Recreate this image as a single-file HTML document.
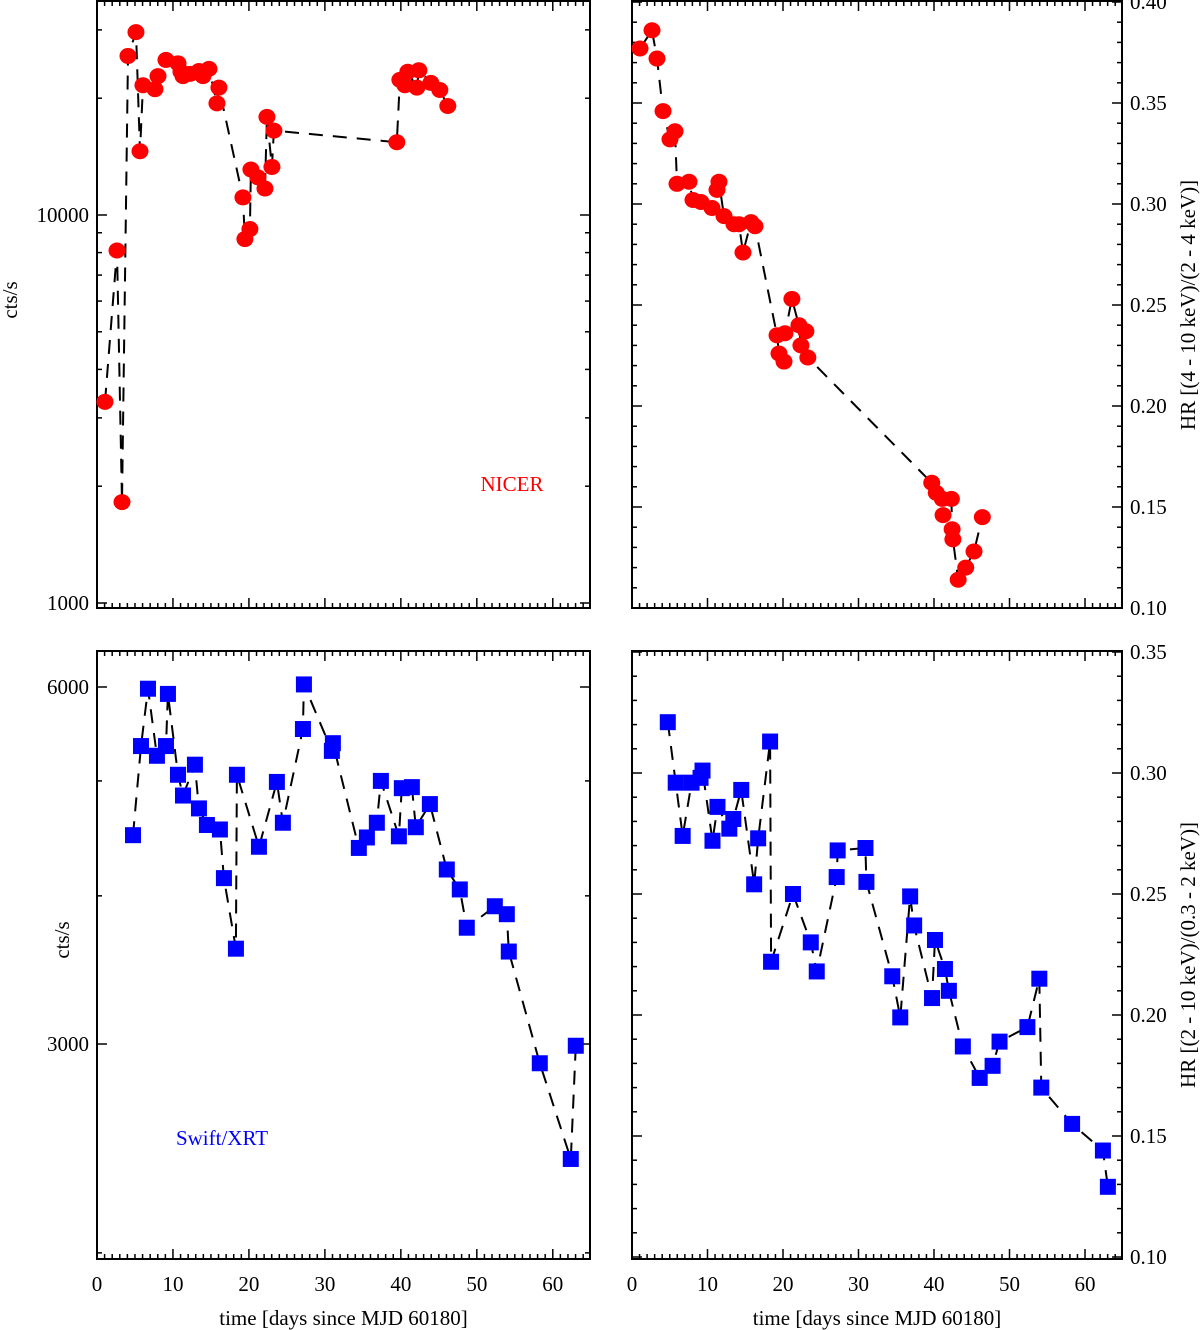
<!DOCTYPE html>
<html><head><meta charset="utf-8"><style>
html,body{margin:0;padding:0;background:#fff}
svg{display:block}
text{font-family:"Liberation Serif",serif;font-size:21px;fill:#000}
</style></head><body>
<svg id="chart" width="1200" height="1330" viewBox="0 0 1200 1330" xmlns="http://www.w3.org/2000/svg"></svg>
<script>
const nicerDays=[1.05,2.63,3.29,4.08,5.13,5.66,6.05,7.63,8.03,9.08,10.66,11.05,11.32,12.24,13.42,13.95,14.74,15.79,16.05,19.21,19.47,20.13,20.26,21.18,22.11,22.37,23.03,23.29,39.47,39.87,40.53,40.92,42.11,42.37,43.95,45.13,46.18];
const nicerRate=[3300,8100,1820,25700,29600,14600,21600,21100,22800,25100,24600,23400,22800,23100,23500,22800,23800,19400,21300,11100,8670,9200,13100,12500,11700,17900,13300,16500,15400,22300,21600,23400,21300,23600,21900,21000,19100];
const nicerHrDays=[1.06,2.65,3.31,4.11,5.03,5.70,5.96,7.55,8.08,9.14,10.60,11.26,11.52,12.19,13.51,14.17,14.70,15.76,16.29,19.21,19.47,20.13,20.26,21.18,22.11,22.37,23.03,23.29,39.7,40.3,41.1,41.2,42.3,42.4,42.5,43.2,44.2,45.3,46.4];
const nicerHr=[0.377,0.386,0.372,0.346,0.332,0.336,0.310,0.311,0.302,0.301,0.298,0.307,0.311,0.294,0.290,0.290,0.276,0.291,0.289,0.235,0.226,0.222,0.236,0.253,0.240,0.230,0.237,0.224,0.162,0.157,0.154,0.146,0.154,0.139,0.134,0.114,0.120,0.128,0.145];
const xrtDays=[4.74,5.79,6.71,7.89,9.08,9.34,10.66,11.32,12.89,13.42,14.47,16.18,16.71,18.29,18.42,21.32,23.68,24.47,27.11,27.24,30.92,31.05,34.47,35.53,36.84,37.37,39.74,40.13,41.45,41.97,43.82,46.05,47.76,48.68,52.37,53.95,54.21,58.29,62.37,63.03];
const xrtRate=[4500,5350,5980,5250,5350,5920,5060,4860,5160,4740,4590,4550,4140,3610,5060,4400,4990,4610,5530,6030,5300,5380,4390,4480,4610,5000,4490,4930,4940,4570,4780,4210,4050,3760,3920,3860,3590,2890,2400,2990];
const xrtHr=[0.321,0.296,0.274,0.296,0.298,0.301,0.272,0.286,0.277,0.281,0.293,0.254,0.273,0.313,0.222,0.250,0.230,0.218,0.257,0.268,0.269,0.255,0.216,0.199,0.249,0.237,0.207,0.231,0.219,0.210,0.187,0.174,0.179,0.189,0.195,0.215,0.170,0.155,0.144,0.129];
const xMajor=[0,10,20,30,40,50,60];
const rateTicksTop=[1000,10000];
const rateTicksBot=[3000,6000];
const hrTicksTop=[0.10,0.15,0.20,0.25,0.30,0.35,0.40];
const hrTicksBot=[0.10,0.15,0.20,0.25,0.30,0.35];

const NS='http://www.w3.org/2000/svg';
const svg=document.getElementById('chart');
function mk(tag,attrs,parent){const e=document.createElementNS(NS,tag);for(const k in attrs)e.setAttribute(k,attrs[k]);(parent||svg).appendChild(e);return e;}

function panel(cfg){
  const g=mk('g',{});
  
  
  const X=d=>cfg.x0+(d/64.9)*(cfg.x1-cfg.x0);
  const Y=cfg.Y;
  const fr=mk('rect',{x:cfg.x0,y:cfg.y0,width:cfg.x1-cfg.x0,height:cfg.y1-cfg.y0,fill:'none',stroke:'#000','stroke-width':2},g);
  
  
  for(let d=0;d<=64;d++){
    const major=d%10===0, L=major?10:5, px=X(d);
    mk('line',{x1:px,x2:px,y1:cfg.y1,y2:cfg.y1-L,stroke:'#000','stroke-width':1.5},g);
    mk('line',{x1:px,x2:px,y1:cfg.y0,y2:cfg.y0+L,stroke:'#000','stroke-width':1.5},g);
  }
  if(cfg.xlabels){
    xMajor.forEach(d=>{const t=mk('text',{x:X(d),y:cfg.y1+32,'text-anchor':'middle'},g);t.textContent=d;
      
      });
    const t=mk('text',{x:(cfg.x0+cfg.x1)/2,y:1325,'text-anchor':'middle'},g);
    t.textContent='time [days since MJD 60180]';
    
    
  }
  cfg.yticks.forEach(tk=>{
    const py=Y(tk.v);if(py<cfg.y0-0.5||py>cfg.y1+0.5)return;
    const L=tk.major?10:5;
    mk('line',{x1:cfg.x0,x2:cfg.x0+L,y1:py,y2:py,stroke:'#000','stroke-width':1.5},g);
    mk('line',{x1:cfg.x1,x2:cfg.x1-L,y1:py,y2:py,stroke:'#000','stroke-width':1.5},g);
    if(tk.label){
      const t=cfg.labelRight?mk('text',{x:cfg.x1+8,y:py+7,'text-anchor':'start'},g):mk('text',{x:cfg.x0-8,y:py+7,'text-anchor':'end'},g);
      t.textContent=tk.label;
      
      
    }
  });
  const pts=cfg.days.map((d,i)=>X(d).toFixed(1)+','+Y(cfg.vals[i]).toFixed(1)).join(' ');
  const pl=mk('polyline',{points:pts,fill:'none',stroke:'#000','stroke-width':2,'stroke-dasharray':'14 10'},g);
  
  
  cfg.days.forEach((d,i)=>{
    const cx=X(d),cy=Y(cfg.vals[i]);let m;
    if(cfg.marker==='circle')m=mk('ellipse',{cx:cx,cy:cy,rx:8.5,ry:8,fill:'#ff0000'},g);
    else m=mk('rect',{x:cx-8,y:cy-8,width:16,height:16,fill:'#0000ff'},g);
    
    
  });
}
function logTicks(lo,hi,labels){const a=[];for(let dec=100;dec<=100000;dec*=10)for(let k=1;k<=9;k++){const v=k*dec;if(v>=lo&&v<=hi)a.push({v:v,major:labels.includes(v)||k===1,label:labels.includes(v)?String(v):null});}return a;}
function linTicks(lo,hi,majors){const a=[];for(let i=Math.round(lo*100);i<=Math.round(hi*100);i++){const v=i/100;const mj=majors.some(m=>Math.abs(m-v)<1e-6);a.push({v:v,major:mj,label:mj?v.toFixed(2):null});}return a;}

panel({name:'nicer-count-rate-panel',x0:97,x1:590,y0:1,y1:608,Y:v=>215-388*(Math.log10(v)-4),
  yticks:logTicks(900,40000,rateTicksTop),days:nicerDays,vals:nicerRate,marker:'circle',xlabels:false});
panel({name:'nicer-hardness-panel',x0:632,x1:1122,y0:1,y1:608,Y:v=>2+(0.40-v)*2020,labelRight:true,
  yticks:linTicks(0.10,0.40,hrTicksTop),days:nicerHrDays,vals:nicerHr,marker:'circle',xlabels:false});
panel({name:'xrt-count-rate-panel',x0:97,x1:590,y0:651,y1:1259,Y:v=>687+1186*Math.log10(6000/v),
  yticks:logTicks(1900,7000,rateTicksBot),days:xrtDays,vals:xrtRate,marker:'square',xlabels:true});
panel({name:'xrt-hardness-panel',x0:632,x1:1122,y0:651,y1:1259,Y:v=>652+(0.35-v)*2420,labelRight:true,
  yticks:linTicks(0.10,0.35,hrTicksBot),days:xrtDays,vals:xrtHr,marker:'square',xlabels:true});

function txt(s,x,y,attrs,name){const t=mk('text',Object.assign({x:x,y:y},attrs));t.textContent=s;
  
  return t;}
txt('cts/s',0,0,{transform:'translate(17,300) rotate(-90)','text-anchor':'middle'},'y-axis-title-top');
txt('cts/s',0,0,{transform:'translate(69,940) rotate(-90)','text-anchor':'middle'},'y-axis-title-bottom');
txt('HR [(4 - 10 keV)/(2 - 4 keV)]',0,0,{transform:'translate(1195,305) rotate(-90)','text-anchor':'middle'},'y-axis-title-top-right');
txt('HR [(2 - 10 keV)/(0.3 - 2 keV)]',0,0,{transform:'translate(1195,955) rotate(-90)','text-anchor':'middle'},'y-axis-title-bottom-right');
txt('NICER',512,491,{'text-anchor':'middle',style:'fill:#ff0000'},'nicer-label');
txt('Swift/XRT',222,1145,{'text-anchor':'middle',style:'fill:#0000ff'},'swift-xrt-label');
</script>
</body></html>
